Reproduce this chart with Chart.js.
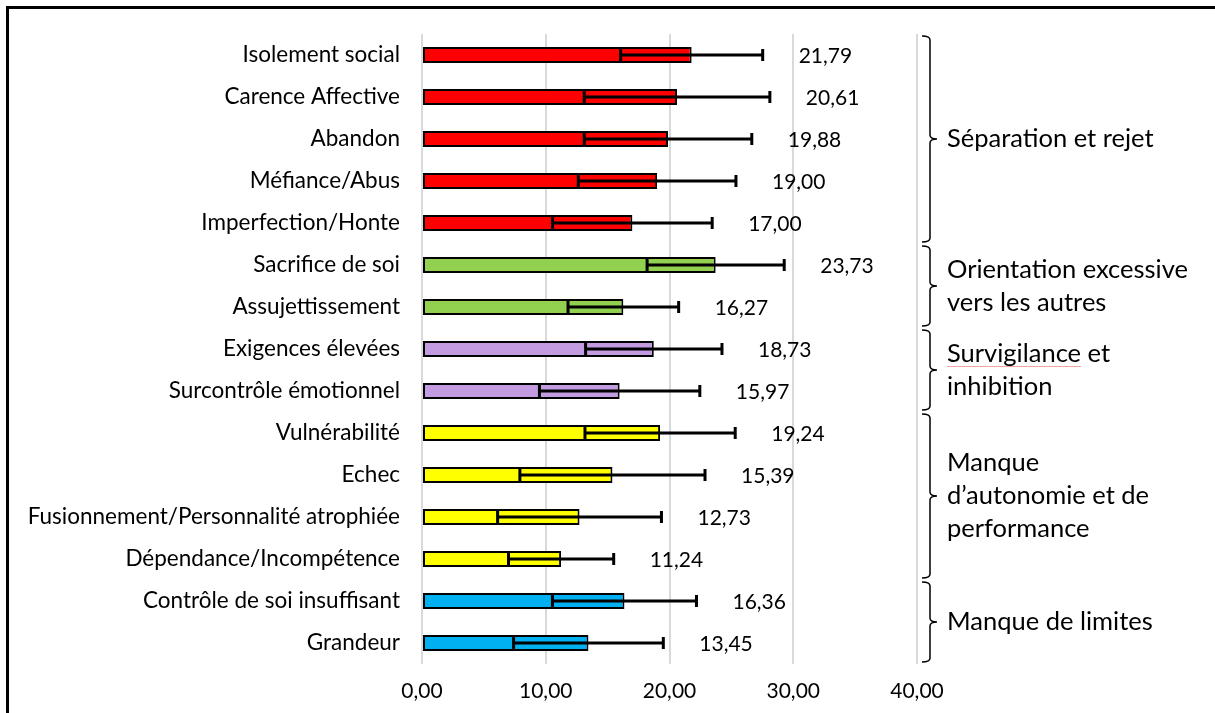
<!DOCTYPE html>
<html>
<head>
<meta charset="utf-8">
<script src="https://cdn.jsdelivr.net/npm/chart.js@4.4.1/dist/chart.umd.min.js"></script>
<style>
    html, body { margin: 0; padding: 0; background: #fff; overflow: hidden; }
    #wrap { position: absolute; left: 0; top: 0; width: 1215px; height: 713px; }
    #frame { position: absolute; left: 6px; top: 6px; width: 1400px; height: 900px; border: 3px solid #000; pointer-events: none; }
</style>
</head>
<body>
<div id="wrap"><canvas id="schemaChart"></canvas></div>
<div id="frame"></div>
<script>
const categories = [
    'Isolement social', 'Carence Affective', 'Abandon', 'Méfiance/Abus', 'Imperfection/Honte',
    'Sacrifice de soi', 'Assujettissement',
    'Exigences élevées', 'Surcontrôle émotionnel',
    'Vulnérabilité', 'Echec', 'Fusionnement/Personnalité atrophiée', 'Dépendance/Incompétence',
    'Contrôle de soi insuffisant', 'Grandeur'
];
const means = [21.79, 20.61, 19.88, 19.00, 17.00, 23.73, 16.27, 18.73, 15.97, 19.24, 15.39, 12.73, 11.24, 16.36, 13.45];
const sds = [5.74, 7.50, 6.77, 6.37, 6.45, 5.54, 4.47, 5.51, 6.48, 6.07, 7.48, 6.62, 4.25, 5.82, 6.05];
const groupOf = [0, 0, 0, 0, 0, 1, 1, 2, 2, 3, 3, 3, 3, 4, 4];
const groupNames = [
    ['Séparation et rejet'],
    ['Orientation excessive', 'vers les autres'],
    ['Survigilance et', 'inhibition'],
    ['Manque', 'd’autonomie et de', 'performance'],
    ['Manque de limites']
];
const groupColors = ['#ff0000', '#92d050', '#c39be0', '#ffff00', '#00b0f0'];
const xMin = 0, xMax = 40, xStep = 10;

const FONT = 'Lato, Carlito, Calibri, sans-serif';
const fmt = v => v.toFixed(2).replace('.', ',');

document.addEventListener('DOMContentLoaded', () => {
    const canvas = document.getElementById('schemaChart');
    const ctx = canvas.getContext('2d');

    new Chart(ctx, {
        type: 'bar',
        data: {
            labels: categories,
            datasets: [{
                data: means,
                backgroundColor: means.map((_, i) => groupColors[groupOf[i]]),
                borderColor: '#000',
                borderWidth: 2,
                borderSkipped: false,
                barPercentage: 0.38,
                categoryPercentage: 1
            }]
        },
        options: {
            indexAxis: 'y',
            responsive: true,
            maintainAspectRatio: false,
            animation: false,
            layout: { padding: { top: 34, right: 298, bottom: 0, left: 0 } },
            scales: {
                x: {
                    min: xMin,
                    max: xMax,
                    ticks: {
                        stepSize: xStep,
                        color: '#000',
                        padding: 15,
                        font: { family: FONT, size: 21 },
                        callback: v => fmt(v)
                    },
                    grid: { color: '#d9d9d9', lineWidth: 2, drawTicks: false },
                    border: { display: false },
                    afterFit: s => { s.height = 49; }
                },
                y: {
                    ticks: {
                        color: '#000',
                        padding: 14,
                        font: { family: FONT, size: 22.5 }
                    },
                    grid: { display: false },
                    border: { display: false },
                    afterFit: s => { s.width = 422; }
                }
            },
            plugins: {
                legend: { display: false },
                tooltip: { enabled: false }
            }
        },
        plugins: [{
            id: 'errorBarsAndLabels',
            afterDatasetsDraw: (chart) => {
                const c = chart.ctx;
                const xs = chart.scales.x;
                const ys = chart.scales.y;
                c.save();
                c.strokeStyle = '#000';
                c.lineWidth = 3;
                means.forEach((m, i) => {
                    const y = ys.getPixelForValue(i);
                    const x1 = xs.getPixelForValue(m - sds[i]);
                    const x2 = xs.getPixelForValue(m + sds[i]);
                    c.beginPath();
                    c.moveTo(x1, y); c.lineTo(x2, y);
                    c.moveTo(x1, y - 6); c.lineTo(x1, y + 6);
                    c.moveTo(x2, y - 6); c.lineTo(x2, y + 6);
                    c.stroke();
                    c.fillStyle = '#000';
                    c.font = '21px ' + FONT;
                    c.textAlign = 'left';
                    c.textBaseline = 'middle';
                    c.fillText(fmt(m), x2 + 36, y + 1);
                });
                c.restore();
            }
        }, {
            id: 'groupBrackets',
            afterDraw: (chart) => {
                const c = chart.ctx;
                const ys = chart.scales.y;
                const area = chart.chartArea;
                const half = (ys.getPixelForValue(1) - ys.getPixelForValue(0)) / 2;
                const bx = area.right + 13;
                c.save();
                c.strokeStyle = '#000';
                c.lineWidth = 1.5;
                c.fillStyle = '#000';
                c.font = '25.5px ' + FONT;
                c.textAlign = 'left';
                c.textBaseline = 'middle';
                groupNames.forEach((lines, g) => {
                    const idx = groupOf.map((v, i) => v === g ? i : -1).filter(i => i >= 0);
                    const top = ys.getPixelForValue(idx[0]) - half + 2;
                    const bottom = ys.getPixelForValue(idx[idx.length - 1]) + half - 2;
                    const mid = (top + bottom) / 2;
                    c.beginPath();
                    c.moveTo(bx - 8, top);
                    c.quadraticCurveTo(bx, top, bx, top + 4);
                    c.lineTo(bx, mid - 4);
                    c.quadraticCurveTo(bx, mid, bx + 7, mid);
                    c.quadraticCurveTo(bx, mid, bx, mid + 4);
                    c.lineTo(bx, bottom - 4);
                    c.quadraticCurveTo(bx, bottom, bx - 8, bottom);
                    c.stroke();
                    const lh = 33;
                    const startY = mid - (lines.length - 1) * lh / 2;
                    lines.forEach((t, k) => {
                        const ty = startY + k * lh;
                        c.fillText(t, bx + 17, ty);
                        if (t.startsWith('Survigilance')) {
                            const w = c.measureText('Survigilance').width;
                            c.save();
                            c.strokeStyle = '#f4a3a3';
                            c.lineWidth = 1;
                            c.beginPath();
                            c.moveTo(bx + 17, ty + 13);
                            c.lineTo(bx + 17 + w, ty + 13);
                            c.stroke();
                            c.restore();
                        }
                    });
                });
                c.restore();
            }
        }]
    });
});
</script>
</body>
</html>
